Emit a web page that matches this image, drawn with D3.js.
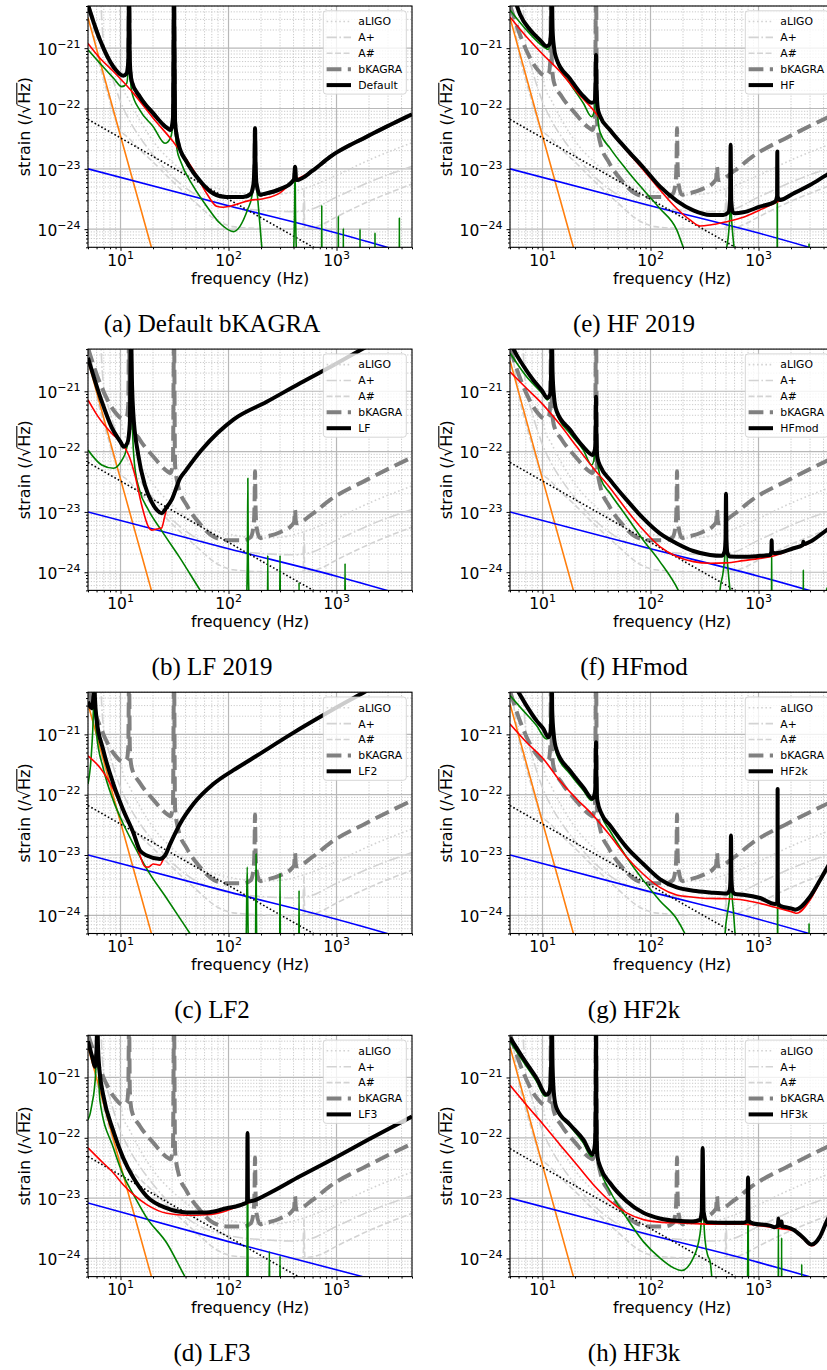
<!DOCTYPE html>
<html>
<head>
<meta charset="utf-8">
<script src="https://cdn.jsdelivr.net/npm/d3@7"></script>
<style>
  body { margin: 0; background: #fff; }
  text { font-family: "DejaVu Sans", sans-serif; fill: #000; }
  .caption { font-family: "Liberation Serif", serif; }
</style>
</head>
<body>
<script>
// axis ticks and labels
var xTicks = [10, 100, 1000];
var xTickExp = ["1", "2", "3"];
var yTicks = [1e-21, 1e-22, 1e-23, 1e-24];
var yTickExp = ["\u221221", "\u221222", "\u221223", "\u221224"];
var legendNames = ["aLIGO", "A+", "A#", "bKAGRA"];
var panelLabels = ["Default", "LF", "LF2", "LF3", "HF", "HFmod", "HF2k", "HF3k"];
var captions = ["(a) Default bKAGRA", "(b) LF 2019", "(c) LF2", "(d) LF3",
                "(e) HF 2019", "(f) HFmod", "(g) HF2k", "(h) HF3k"];

// reference detectors [frequency Hz, strain /rtHz]
var aLIGO = [[9.7,3e-20],[9.9,2e-21],[10.1,4e-22],[10.5,2.3e-22],[12,1.4e-22],[15,6.5e-23],[20,2.9e-23],[30,1.3e-23],[50,6.4e-24],[100,4.3e-24],[200,3.7e-24],[300,3.8e-24],[500,4.7e-24],[1000,7.8e-24],[2000,1.4e-23],[5000,2.7e-23]];
var aPlus = [[6.4,3e-20],[6.7,3e-21],[7,1.2e-21],[8,4.5e-22],[9,2.2e-22],[10,1.3e-22],[12,6.5e-23],[15,3.4e-23],[20,1.7e-23],[30,7.5e-24],[50,3.7e-24],[100,2.4e-24],[200,2.05e-24],[400,1.95e-24],[490,2.0e-24],[496,3e-24],[500,4.5e-24],[504,3e-24],[510,2.05e-24],[1000,3.4e-24],[2000,6e-24],[5000,1.1e-23]];
var aSharp = [[5,8e-21],[5.5,2.5e-21],[6,9e-22],[7,3e-22],[8,1.3e-22],[9.5,5e-23],[12,3.2e-23],[15,2.1e-23],[20,1.3e-23],[30,6.3e-24],[50,2.7e-24],[80,1.35e-24],[110,1.1e-24],[200,1.02e-24],[400,1.0e-24],[490,1.02e-24],[496,1.6e-24],[500,2.4e-24],[504,1.6e-24],[510,1.03e-24],[700,1.15e-24],[1000,1.6e-24],[2000,2.9e-24],[5000,5.6e-24]];
var bKAGRA = [[5,5.2e-21],[6.46,1.36e-21],[8.6,4.9e-22],[10.6,3.5e-22],[11.4,3.8e-22],[11.8,6e-22],[12.0,1e-20],[12.2,6e-22],[12.7,2.8e-22],[15.1,1.57e-22],[20.1,8.3e-23],[26.8,4.8e-23],[29.1,4.4e-23],[30.6,7e-23],[31.3,1e-20],[32.0,6e-23],[34.3,2.65e-23],[41,1.3e-23],[54.5,6.3e-24],[72.3,3.9e-24],[96,3.4e-24],[137,3.4e-24],[160,3.8e-24],[170,5.5e-24],[174,1.2e-23],[176,4.7e-23],[178,1.2e-23],[182,5.5e-24],[196,3.7e-24],[210,3.8e-24],[300,4.6e-24],[385,6.0e-24],[405,6.8e-24],[413,1.08e-23],[421,6.8e-24],[428,6.5e-24],[600,9.3e-24],[871,1.58e-23],[1900,3.4e-23],[5000,8e-23]];

// noise components shared by most configurations
var seismic = [[5,3.2e-21],[10,3.5e-23],[20,4e-25]];
var mirrorThermal = [[5,1e-23],[100,2.45e-24],[1000,8.6e-25],[5000,3.8e-25]];
var newtonian = [[5,6.6e-23],[610,5e-25],[5000,6e-26]];
var mirrorThermalLF3 = [[5,8.3e-24],[100,1.9e-24],[1900,4.8e-25],[5000,3e-25]];
var newtonianLF3 = [[5,4.9e-23],[460,4.8e-25],[5000,4.4e-26]];

// (a) Default
var defaultQuantum = [[5,1.2e-21],[6.46,6.8e-22],[8.6,4.1e-22],[13.2,1.78e-22],[20.1,6.9e-23],[30.8,2.8e-23],[47.3,9.6e-24],[62.8,3.9e-24],[77.5,2.4e-24],[89,2.3e-24],[103,2.4e-24],[158,3.0e-24],[210,3.2e-24],[300,4.0e-24],[385,5.9e-24],[600,9.2e-24],[871,1.56e-23],[1900,3.35e-23],[5000,7.9e-23]];
var defaultSusp = [[5,9.4e-22],[6.46,5.6e-22],[8.6,3.2e-22],[10.3,2.3e-22],[11.4,2.6e-22],[11.8,5e-22],[12.0,1e-20],[12.2,5e-22],[12.7,1.9e-22],[15.1,9.4e-23],[20.1,5e-23],[25.8,2.65e-23],[29.1,3.3e-23],[30.6,6e-23],[31.3,1e-20],[32.0,5e-23],[33.5,2e-23],[35.6,1.4e-23],[47.3,5.1e-24],[62.8,2.4e-24],[83.4,1.25e-24],[111,9.1e-25],[150,2.1e-24],[165,3.6e-24],[172,8e-24],[176,4.5e-23],[180,8e-24],[187,3e-24],[196,1.1e-24],[205,4.5e-25],[260,1e-25],[395,3e-25],[408,1.5e-24],[413,1.05e-23],[418,1.5e-24],[432,3e-25],[600,1e-25],[726,1e-25],[730,2.5e-24],[734,1e-25],[1036,1e-25],[1040,1.66e-24],[1044,1e-25],[1153,1e-25],[1157,1.03e-24],[1161,1e-25],[1645,1e-25],[1651,1e-24],[1657,1e-25],[2264,1e-25],[2272,8.7e-25],[2280,1e-25],[3808,1e-25],[3820,1.56e-24],[3832,1e-25],[5000,1e-25]];

// (b) LF
var lfTotal = [[5,3.6e-21],[6.7,6.8e-22],[8.3,2.5e-22],[10,1.45e-22],[10.7,1.2e-22],[11.6,1.4e-22],[12.2,3e-22],[12.5,1e-20],[12.8,1.2e-21],[13.1,4.6e-22],[14.6,8.8e-23],[16.8,2.8e-23],[19.4,1.47e-23],[22,1.05e-23],[24,9.5e-24],[26.8,1.2e-23],[29.8,1.6e-23],[35.6,3.6e-23],[40,4.8e-23],[56,1.05e-22],[80,2.07e-22],[111,3.4e-22],[226,6.7e-22],[459,1.36e-21],[935,2.7e-21],[1730,5e-21],[5000,1.5e-20]];
var lfQuantum = [[5,7.2e-22],[6.2,3.8e-22],[8.3,2e-22],[10.3,1.37e-22],[11.9,8.8e-23],[13.6,4.1e-23],[15.7,1.3e-23],[18.1,5.7e-24],[19.4,5e-24],[21.6,5.2e-24],[24,5.4e-24],[25.5,8e-24],[26.8,1.15e-23],[29.8,1.55e-23],[35.6,3.5e-23],[40,4.7e-23],[56,1.03e-22],[80,2.03e-22],[111,3.35e-22],[226,6.6e-22],[459,1.35e-21],[935,2.7e-21],[1730,5e-21],[5000,1.5e-20]];
var lfSusp = [[5,1.06e-22],[6.7,6e-23],[8.6,5.3e-23],[10.3,7.2e-23],[11.4,1.13e-22],[12.1,2.5e-22],[12.5,1e-20],[12.9,2.5e-22],[13.5,6e-23],[15,2.3e-23],[18,1.1e-23],[24,4.9e-24],[35,1.8e-24],[56,4.7e-25],[100,1e-25],[146,3e-25],[149.5,1.5e-24],[151,3.6e-23],[152.5,1.5e-24],[156,3e-25],[200,1e-25],[229,1e-25],[231,1.9e-24],[233,1e-25],[297,1e-25],[300,1.9e-24],[303,1e-25],[446,1e-25],[450,6.7e-25],[454,1e-25],[1190,1e-25],[1200,1.4e-24],[1210,1e-25],[5000,1e-25]];

// (c) LF2
var lf2Total = [[5,3.5e-21],[5.4,2.7e-21],[5.6,4e-21],[5.7,1e-20],[5.8,4e-21],[6.0,1.8e-21],[6.9,5.6e-22],[8.6,1.5e-22],[10.6,5.6e-23],[13.2,2.3e-23],[15.1,1.2e-23],[17.5,9.8e-24],[23.2,8.6e-24],[25.8,9.8e-24],[28.7,1.5e-23],[35.6,3.3e-23],[47.3,7e-23],[72.3,1.5e-22],[111,2.55e-22],[158,3.76e-22],[377,1e-21],[935,2.6e-21],[1900,5.3e-21],[5000,1.5e-20]];
var lf2Quantum = [[5,4.4e-22],[6.46,2.8e-22],[8.6,1.22e-22],[10.6,5.2e-23],[13.2,2.1e-23],[15.1,1.0e-23],[16.9,6.4e-24],[18.1,6.3e-24],[20.1,7.1e-24],[23.2,6.8e-24],[24.5,8e-24],[25.8,9.6e-24],[28.7,1.48e-23],[35.6,3.25e-23],[47.3,6.9e-23],[72.3,1.48e-22],[111,2.5e-22],[158,3.7e-22],[377,9.9e-22],[935,2.6e-21],[1900,5.3e-21],[5000,1.5e-20]];
var lf2Susp = [[5,1.5e-22],[5.2,2.4e-22],[5.4,5.4e-22],[5.6,2.2e-21],[5.7,1e-20],[5.8,3e-21],[6.0,1e-21],[6.9,2.8e-22],[8.6,7.9e-23],[10.6,3.3e-23],[13.2,1.5e-23],[17.5,5.9e-24],[26.8,1.9e-24],[44,5e-25],[80,1e-25],[145.5,4e-25],[149,6.3e-24],[152.5,4e-25],[177,1e-25],[178.8,1.5e-24],[180,1.04e-23],[181.2,1.5e-24],[184,1e-25],[297,1e-25],[300,5e-24],[303,1e-25],[446,1e-25],[450,2.6e-24],[454,1e-25],[5000,1e-25]];

// (d) LF3
var lf3Total = [[5,4e-21],[5.5,2.1e-21],[5.8,1.5e-21],[6.0,3e-21],[6.1,1e-20],[6.2,3e-21],[6.46,1.1e-21],[6.9,5.2e-22],[8.6,1.28e-22],[10.6,4.6e-23],[13.2,2.15e-23],[17.5,1.07e-23],[26.8,6.8e-24],[41,5.8e-24],[62.8,5.8e-24],[96,6.8e-24],[140,8.1e-24],[148.5,8.6e-24],[150,1.2e-22],[151.5,8.8e-24],[170,9.1e-24],[226,1.15e-23],[459,2.3e-23],[935,4.5e-23],[1900,9e-23],[5000,2.26e-22]];
var lf3Quantum = [[5,6.8e-23],[6.46,4.3e-23],[8.6,2.6e-23],[10.6,1.67e-23],[13.2,1.14e-23],[17.5,7.8e-24],[26.8,5.6e-24],[41,5.2e-24],[62.8,5.3e-24],[96,6.2e-24],[120,7.2e-24],[150,8.2e-24],[170,9e-24],[226,1.14e-23],[459,2.3e-23],[935,4.5e-23],[1900,9e-23],[5000,2.26e-22]];
var lf3Susp = [[5,2e-22],[5.2,2.4e-22],[5.5,4e-22],[5.7,6e-22],[5.9,1.3e-21],[6.1,1e-20],[6.25,1.5e-21],[6.46,4e-22],[8.6,6.8e-23],[10.6,2.4e-23],[13.2,1.14e-23],[17.5,4.7e-24],[26.8,1.8e-24],[39.5,5e-25],[70,1e-25],[147,1e-25],[148.5,1e-24],[150,1.2e-22],[151.5,1e-24],[153,1e-25],[236,1e-25],[239,1.3e-24],[242,1e-25],[297,1e-25],[300,1.1e-24],[303,1e-25],[5000,1e-25]];

// (e) HF
var hfTotal = [[5,1.1e-20],[5.8,5e-21],[6.2,3.6e-21],[7.7,2e-21],[9.5,1.36e-21],[10.9,1.08e-21],[11.6,1.15e-21],[12.0,2e-21],[12.2,1e-20],[12.4,2e-21],[12.8,1e-21],[13.5,6.6e-22],[18,3.1e-22],[23.9,1.6e-22],[28.5,1.24e-22],[30.2,1.3e-22],[31,2.5e-22],[31.3,7.7e-22],[31.6,2.5e-22],[32.5,1e-22],[34,7.6e-23],[42.2,4.4e-23],[60.1,2.1e-23],[85.8,1.05e-23],[122,5.1e-24],[175,2.95e-24],[249,2.05e-24],[356,1.72e-24],[472,1.72e-24],[526,1.9e-24],[545,3e-24],[552,2.5e-23],[559,3e-24],[580,1.9e-24],[606,1.83e-24],[723,1.9e-24],[1032,2.36e-24],[1422,2.86e-24],[1485,3.5e-24],[1493,1.93e-23],[1501,3.5e-24],[1581,3.05e-24],[2104,3.9e-24],[3000,5.4e-24],[4279,7.9e-24],[5000,9.2e-24]];
var hfQuantum = [[5,3.3e-21],[7.1,1.55e-21],[10.2,7.7e-22],[14.5,4.1e-22],[20.7,1.9e-22],[29.6,9.4e-23],[42.2,4.2e-23],[60.1,2e-23],[85.8,9.6e-24],[122,4.5e-24],[175,2.2e-24],[232,1.42e-24],[287,1.13e-24],[356,1.17e-24],[507,1.33e-24],[723,1.57e-24],[1032,2.08e-24],[1422,2.7e-24],[2104,3.8e-24],[3000,5.3e-24],[4279,7.8e-24],[5000,9.1e-24]];
var hfSusp = [[5,4.3e-21],[7.1,2e-21],[10.2,1.06e-21],[11.3,9.5e-22],[11.9,1.5e-21],[12.2,1e-20],[12.5,1.5e-21],[13.5,6.2e-22],[18,2.6e-22],[23.9,1.22e-22],[28.5,7.3e-23],[30.5,1e-22],[31.3,7.7e-22],[32,1e-22],[34,4.1e-23],[42.2,2.2e-23],[60.1,9.6e-24],[85.8,4.5e-24],[122,2.2e-24],[175,9.7e-25],[201,5e-25],[300,1e-25],[470,1e-25],[500,4e-25],[530,9e-25],[545,2e-24],[552,2.5e-23],[559,2e-24],[575,9e-25],[600,4e-25],[630,1e-25],[1488,1e-25],[1493,1.93e-23],[1498,1e-25],[2930,1e-25],[2938,5.8e-25],[2946,1e-25],[5000,1e-25]];

// (f) HFmod
var hfmodTotal = [[5,7e-21],[5.4,5e-21],[6.6,2.7e-21],[8.2,1.54e-21],[9.8,1.05e-21],[11.1,7.8e-22],[11.8,9e-22],[12.0,2e-21],[12.2,1e-20],[12.4,2e-21],[12.8,8e-22],[13.5,4.7e-22],[18,2.3e-22],[23.9,1.2e-22],[29.1,8.8e-23],[30.6,1.1e-22],[31.1,2.5e-22],[31.3,8.1e-22],[31.5,2.5e-22],[32.2,8e-23],[34.5,5.6e-23],[42.2,3.4e-23],[60.1,1.58e-23],[85.8,7.8e-24],[122,4.4e-24],[175,3e-24],[249,2.25e-24],[356,1.93e-24],[456,1.87e-24],[485,2.2e-24],[495,3.5e-24],[500,2e-23],[505,3.5e-24],[515,2.1e-24],[545,1.82e-24],[723,1.8e-24],[1032,1.87e-24],[1276,1.93e-24],[1316,2.2e-24],[1324,3.4e-24],[1332,2.2e-24],[1422,2.06e-24],[2104,2.5e-24],[2580,2.85e-24],[2600,3.2e-24],[2620,2.9e-24],[3000,3.2e-24],[4279,5e-24],[5000,6e-24]];
var hfmodQuantum = [[5,2.1e-21],[7.1,1.12e-21],[10.2,5.9e-22],[14.5,2.8e-22],[20.7,1.21e-22],[29.6,5.3e-23],[42.2,2.5e-23],[60.1,1.08e-23],[85.8,5e-24],[122,2.66e-24],[175,1.82e-24],[249,1.5e-24],[356,1.41e-24],[507,1.43e-24],[723,1.56e-24],[1032,1.7e-24],[1374,1.86e-24],[2104,2.45e-24],[3000,3.1e-24],[4279,4.9e-24],[5000,5.9e-24]];
var hfmodSusp = [[5,4.3e-21],[7.1,1.75e-21],[10.2,8.7e-22],[11.1,7.2e-22],[11.8,9e-22],[12.2,1e-20],[12.6,9e-22],[13.5,4.3e-22],[18,2e-22],[23.9,1.06e-22],[28.5,6e-23],[30.6,9e-23],[31.3,8.1e-22],[32,9e-23],[34.5,3.6e-23],[42.2,2.04e-23],[60.1,8.4e-24],[85.8,3.4e-24],[122,1.5e-24],[181,5e-25],[260,1e-25],[420,1e-25],[440,5e-25],[470,1e-24],[490,2.2e-24],[500,2e-23],[510,2.2e-24],[525,1e-24],[545,5e-25],[580,1e-25],[1318,1e-25],[1324,3.4e-24],[1330,1e-25],[2590,1e-25],[2600,1.1e-24],[2610,1e-25],[4270,1e-25],[4279,5.5e-25],[4288,1e-25],[5000,1e-25]];

// (g) HF2k
var hf2kTotal = [[5,9e-21],[6.0,5e-21],[7.1,3e-21],[8.8,1.69e-21],[10.2,1.23e-21],[11.3,9e-22],[11.9,1.1e-21],[12.1,2.5e-21],[12.2,1e-20],[12.3,2.5e-21],[12.7,1e-21],[13.5,5.5e-22],[18,2.5e-22],[23.9,1.32e-22],[29.1,8.6e-23],[30.6,1.1e-22],[31.1,2.5e-22],[31.3,7.4e-22],[31.5,2.5e-22],[32.2,8e-23],[35.3,4.8e-23],[42.2,3.1e-23],[60.1,1.34e-23],[85.8,7.1e-24],[122,4e-24],[175,2.9e-24],[249,2.56e-24],[356,2.4e-24],[507,2.3e-24],[540,2.6e-24],[550,4e-24],[556,2.1e-23],[562,4e-24],[575,2.5e-24],[606,2.26e-24],[723,2.2e-24],[1032,1.94e-24],[1422,1.54e-24],[1490,1.6e-24],[1500,5e-24],[1503,1.24e-22],[1506,5e-24],[1515,1.6e-24],[1581,1.44e-24],[2104,1.27e-24],[2178,1.24e-24],[3000,2.04e-24],[3707,3.8e-24],[4279,6e-24],[5000,9.4e-24]];
var hf2kQuantum = [[5,1.48e-21],[7.1,7.4e-22],[10.2,3.9e-22],[14.5,1.7e-22],[20.7,8.5e-23],[29.6,4.5e-23],[42.2,2.1e-23],[60.1,9.2e-24],[85.8,4.8e-24],[122,2.9e-24],[175,2.17e-24],[249,2e-24],[356,1.9e-24],[507,1.88e-24],[723,1.8e-24],[1032,1.58e-24],[1422,1.36e-24],[2104,1.12e-24],[2250,1.08e-24],[3000,1.8e-24],[3707,3.6e-24],[4279,5.8e-24],[5000,9.2e-24]];
var hf2kSusp = [[5,4.4e-21],[6.6,2.5e-21],[8.8,1.4e-21],[10.9,8.4e-22],[11.7,9e-22],[12.2,1e-20],[12.7,9e-22],[13.5,4.7e-22],[18,2.2e-22],[23.9,1.17e-22],[28.5,8e-23],[30.6,1.1e-22],[31.3,7.4e-22],[32,1e-22],[35.3,4.5e-23],[42.2,2.5e-23],[60.1,9.2e-24],[85.8,3.8e-24],[122,1.75e-24],[175,8.7e-25],[208,5e-25],[300,1e-25],[470,1e-25],[490,5e-25],[520,1.2e-24],[545,2.5e-24],[556,2.1e-23],[567,2.5e-24],[585,1.2e-24],[606,5e-25],[640,1e-25],[1498,1e-25],[1503,1.24e-22],[1508,1e-25],[2930,1e-25],[2938,7.4e-25],[2946,1e-25],[5000,1e-25]];

// (h) HF3k
var hf3kTotal = [[5,4.6e-21],[6.6,2.1e-21],[8.8,9.8e-22],[10.9,5.2e-22],[11.6,5.8e-22],[12.0,1.5e-21],[12.2,1e-20],[12.4,1.5e-21],[12.8,5e-22],[13.5,3.1e-22],[18,1.65e-22],[23.9,9.3e-23],[29.1,5.3e-23],[30.6,8e-23],[31.1,3e-22],[31.3,1e-20],[31.5,3e-22],[32.2,5e-23],[34.5,3.2e-23],[42.2,1.78e-23],[60.1,8.9e-24],[85.8,5.7e-24],[122,4.6e-24],[175,4.2e-24],[249,4.1e-24],[287,4.3e-24],[298,6e-24],[304,6.8e-23],[310,6e-24],[331,4e-24],[507,3.9e-24],[723,3.9e-24],[790,4.2e-24],[800,2.2e-23],[810,4.2e-24],[895,3.8e-24],[1276,3.5e-24],[1422,3.3e-24],[1515,3.6e-24],[1528,4.6e-24],[1541,3.5e-24],[1625,3.5e-24],[1637,4.1e-24],[1650,3.4e-24],[1824,3.3e-24],[2104,3e-24],[2600,2.2e-24],[3105,1.7e-24],[3707,2.3e-24],[4279,4.1e-24],[5000,7e-24]];
var hf3kQuantum = [[5,7.4e-22],[7.1,3.5e-22],[10.2,1.65e-22],[14.5,7.7e-23],[20.7,3.6e-23],[29.6,1.67e-23],[42.2,8.9e-24],[60.1,5.7e-24],[85.8,4.4e-24],[122,4e-24],[175,3.9e-24],[356,3.7e-24],[723,3.7e-24],[1422,3.2e-24],[2104,2.9e-24],[2600,2.1e-24],[3105,1.62e-24],[3707,2.2e-24],[4279,4e-24],[5000,6.9e-24]];
var hf3kSusp = [[5,4e-21],[6.6,1.85e-21],[8.8,8.6e-22],[10.6,4.9e-22],[11.6,5.5e-22],[12.0,1.4e-21],[12.2,1e-20],[12.4,1.4e-21],[12.8,4.5e-22],[13.5,2.9e-22],[18,1.55e-22],[23.9,8.2e-23],[28.5,4.9e-23],[30.6,7.5e-23],[31.1,3e-22],[31.3,1e-20],[31.5,3e-22],[32.2,4.5e-23],[34.5,2.8e-23],[42.2,1.3e-23],[60.1,4.7e-24],[85.8,1.9e-24],[122,1.02e-24],[163,7e-25],[194,6.3e-25],[249,1.02e-24],[287,2.5e-24],[298,6e-24],[304,6.8e-23],[310,6e-24],[320,2e-24],[340,1.1e-24],[356,9e-25],[369,5e-25],[400,1e-25],[780,1e-25],[794,8e-25],[800,2.2e-23],[806,8e-25],[820,1e-25],[1523,1e-25],[1528,4.6e-24],[1533,1e-25],[1632,1e-25],[1637,2.2e-24],[1642,1e-25],[2500,1e-25],[2512,8e-25],[2524,1e-25],[5000,1e-25]];

var panels = [
  {col: 0, row: 0, total: bKAGRA,     quantum: defaultQuantum, susp: defaultSusp, mirror: mirrorThermal,    ngn: newtonian},
  {col: 0, row: 1, total: lfTotal,    quantum: lfQuantum,      susp: lfSusp,      mirror: mirrorThermal,    ngn: newtonian},
  {col: 0, row: 2, total: lf2Total,   quantum: lf2Quantum,     susp: lf2Susp,     mirror: mirrorThermal,    ngn: newtonian},
  {col: 0, row: 3, total: lf3Total,   quantum: lf3Quantum,     susp: lf3Susp,     mirror: mirrorThermalLF3, ngn: newtonianLF3},
  {col: 1, row: 0, total: hfTotal,    quantum: hfQuantum,      susp: hfSusp,      mirror: mirrorThermal,    ngn: newtonian},
  {col: 1, row: 1, total: hfmodTotal, quantum: hfmodQuantum,   susp: hfmodSusp,   mirror: mirrorThermal,    ngn: newtonian},
  {col: 1, row: 2, total: hf2kTotal,  quantum: hf2kQuantum,    susp: hf2kSusp,    mirror: mirrorThermal,    ngn: newtonian},
  {col: 1, row: 3, total: hf3kTotal,  quantum: hf3kQuantum,    susp: hf3kSusp,    mirror: mirrorThermal,    ngn: newtonian}
];

var plotW = 324, plotH = 241.3;
var colLeft = [88, 510];
var rowTop = [6, 349.1, 692.2, 1035.3];
var captionX = [212, 634];

var x = d3.scaleLog().domain([5, 5000]).range([0, plotW]);
var y = d3.scaleLog().domain([5e-25, 5e-21]).range([plotH, 0]);

var isDecade = function(v) { var l = Math.log10(v); return Math.abs(l - Math.round(l)) < 1e-6; };
var xMinor = x.ticks().filter(function(v) { return !isDecade(v); });
var yMinor = y.ticks().filter(function(v) { return !isDecade(v); });

var line = d3.line()
    .x(function(d) { return x(d[0]); })
    .y(function(d) { return y(d[1]); })
    .curve(d3.curveMonotoneX);

var LG = "#d3d3d3";
var refStyles = [
  {data: aLIGO,  color: LG, width: 1.6, dash: "1.6,2.6"},
  {data: aPlus,  color: LG, width: 1.6, dash: "10.2,2.6,1.6,2.6"},
  {data: aSharp, color: LG, width: 1.6, dash: "5.9,2.6"},
  {data: bKAGRA, color: "#808080", width: 4, dash: "14.8,6.4"}
];

var svg = d3.select("body").append("svg")
    .attr("width", 827)
    .attr("height", 1370);

function curve(g, data, color, width, dash) {
  g.append("path")
      .datum(data)
      .attr("fill", "none")
      .attr("stroke", color)
      .attr("stroke-width", width)
      .attr("stroke-dasharray", dash || null)
      .attr("stroke-linejoin", "round")
      .attr("d", line);
}

panels.forEach(function(p, i) {
  var g = svg.append("g")
      .attr("transform", "translate(" + colLeft[p.col] + "," + rowTop[p.row] + ")");

  g.append("clipPath").attr("id", "clip" + i)
    .append("rect").attr("width", plotW).attr("height", plotH);

  // grid
  var grid = g.append("g");
  grid.selectAll(".gxm").data(xMinor).enter().append("line")
      .attr("x1", x).attr("x2", x).attr("y1", 0).attr("y2", plotH)
      .attr("stroke", "#c4c4c4").attr("stroke-width", 0.9).attr("stroke-dasharray", "1.2,1.6");
  grid.selectAll(".gym").data(yMinor).enter().append("line")
      .attr("y1", y).attr("y2", y).attr("x1", 0).attr("x2", plotW)
      .attr("stroke", "#c4c4c4").attr("stroke-width", 0.9).attr("stroke-dasharray", "1.2,1.6");
  grid.selectAll(".gx").data(xTicks).enter().append("line")
      .attr("x1", x).attr("x2", x).attr("y1", 0).attr("y2", plotH)
      .attr("stroke", "#b8b8b8").attr("stroke-width", 1.2);
  grid.selectAll(".gy").data(yTicks).enter().append("line")
      .attr("y1", y).attr("y2", y).attr("x1", 0).attr("x2", plotW)
      .attr("stroke", "#b8b8b8").attr("stroke-width", 1.2);

  // curves
  var lines = g.append("g").attr("clip-path", "url(#clip" + i + ")");
  refStyles.forEach(function(s) { curve(lines, s.data, s.color, s.width, s.dash); });
  curve(lines, seismic, "#ff7f0e", 1.6);
  curve(lines, p.mirror, "#0000ff", 1.6);
  curve(lines, p.ngn, "#000", 1.6, "1.6,2.2");
  curve(lines, p.susp, "#008000", 1.6);
  curve(lines, p.quantum, "#ff0000", 1.6);
  curve(lines, p.total, "#000", 4);

  // axes
  var axX = g.append("g").attr("transform", "translate(0," + plotH + ")");
  axX.append("g").call(d3.axisBottom(x).tickValues(xTicks).tickSize(3.5).tickSizeOuter(0).tickFormat(""));
  axX.append("g").call(d3.axisBottom(x).tickValues(xMinor).tickSize(2).tickSizeOuter(0).tickFormat(""));
  var axY = g.append("g");
  axY.append("g").call(d3.axisLeft(y).tickValues(yTicks).tickSize(3.5).tickSizeOuter(0).tickFormat(""));
  axY.append("g").call(d3.axisLeft(y).tickValues(yMinor).tickSize(2).tickSizeOuter(0).tickFormat(""));
  g.selectAll(".domain").remove();
  g.selectAll(".tick line").attr("stroke", "#000").attr("stroke-width", 1);

  g.append("rect").attr("width", plotW).attr("height", plotH)
      .attr("fill", "none").attr("stroke", "#000").attr("stroke-width", 1.1);

  var xl = g.selectAll(".xl").data(xTicks).enter().append("text")
      .attr("x", x).attr("y", plotH + 18.4)
      .attr("text-anchor", "middle").attr("font-size", 15.5);
  xl.append("tspan").text("10");
  xl.append("tspan").attr("dy", -7).attr("font-size", 11).text(function(d, j) { return xTickExp[j]; });

  var yl = g.selectAll(".yl").data(yTicks).enter().append("text")
      .attr("x", -7.5).attr("y", function(d) { return y(d) + 6.7; })
      .attr("text-anchor", "end").attr("font-size", 15.5);
  yl.append("tspan").text("10");
  yl.append("tspan").attr("dy", -7).attr("font-size", 11).text(function(d, j) { return yTickExp[j]; });

  g.append("text")
      .attr("x", plotW / 2).attr("y", plotH + 36.5)
      .attr("text-anchor", "middle").attr("font-size", 16)
      .text("frequency (Hz)");

  var ylab = g.append("g").attr("transform", "translate(-58," + (plotH / 2) + ") rotate(-90)");
  var yt = ylab.append("text").attr("text-anchor", "middle").attr("font-size", 16).text("strain (/\u221AHz)");
  var node = yt.node();
  var L = node.getComputedTextLength();
  var pre = node.getSubStringLength(0, 10);
  var hz = node.getSubStringLength(10, 2);
  ylab.append("line")
      .attr("x1", -L / 2 + pre - 0.5).attr("x2", -L / 2 + pre + hz + 0.5)
      .attr("y1", -13.2).attr("y2", -13.2)
      .attr("stroke", "#000").attr("stroke-width", 1.1);

  // legend
  var lg = g.append("g").attr("transform", "translate(" + (plotW - 88.7) + ",4.8)");
  lg.append("rect").attr("width", 83).attr("height", 83.3).attr("rx", 3)
      .attr("fill", "#fff").attr("fill-opacity", 0.8)
      .attr("stroke", "#ccc").attr("stroke-opacity", 0.8);
  var entries = refStyles.map(function(s, j) {
    return {name: legendNames[j], color: s.color, width: s.width, dash: s.dash};
  }).concat([{name: panelLabels[i], color: "#000", width: 4, dash: null}]);
  entries.forEach(function(e, j) {
    var cy = 10.7 + 15.9 * j;
    lg.append("line").attr("x1", 3.3).attr("x2", 27.7).attr("y1", cy).attr("y2", cy)
        .attr("stroke", e.color).attr("stroke-width", e.width)
        .attr("stroke-dasharray", e.dash);
    lg.append("text").attr("x", 35).attr("y", cy + 3.9).attr("font-size", 10.8).text(e.name);
  });

  svg.append("text").attr("class", "caption")
      .attr("x", captionX[p.col]).attr("y", rowTop[p.row] + 326)
      .attr("text-anchor", "middle").attr("font-size", 25)
      .text(captions[i]);
});
</script>
</body>
</html>
